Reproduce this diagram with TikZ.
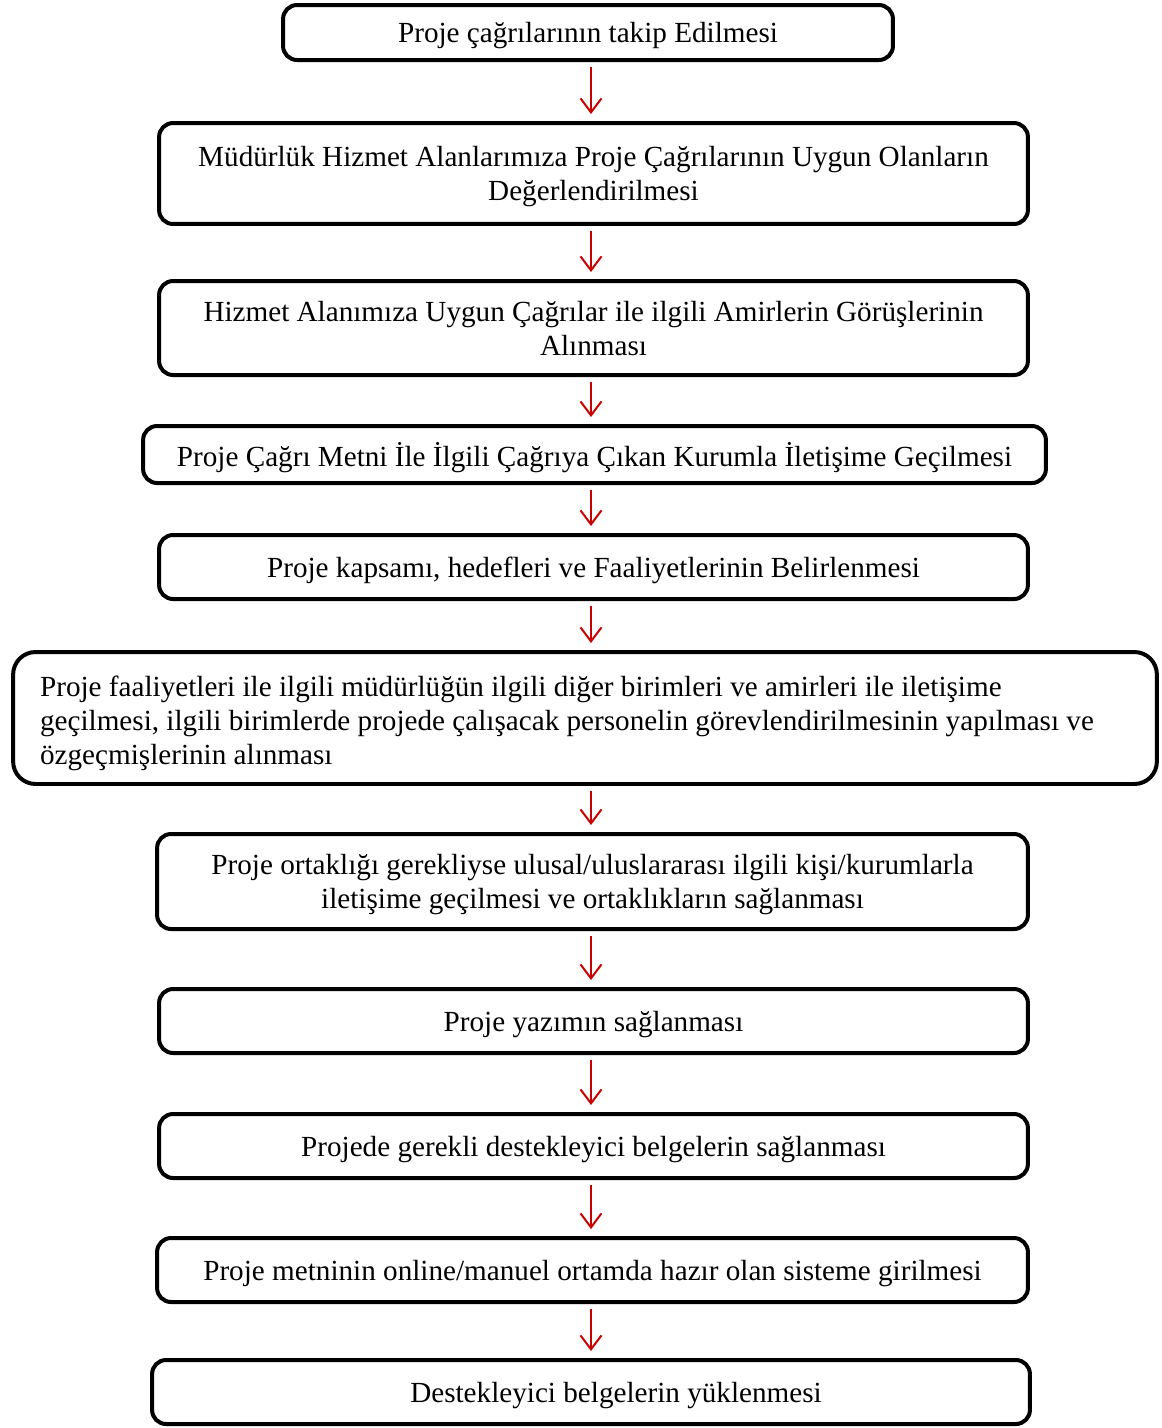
\documentclass[tikz,border=0pt]{standalone}
\usepackage{fontspec}
\setmainfont{Liberation Serif}
\definecolor{ArrowRed}{RGB}{200,0,0}
\definecolor{BoxInk}{RGB}{0,0,0}
\usetikzlibrary{arrows.meta}

\begin{document}
\begin{tikzpicture}[
    x=0.02cm, y=-0.02cm,
    FlowBox/.style={draw=BoxInk, line width=0.08cm, rounded corners=0.28cm,
      inner sep=0pt, align=center, text depth=0pt,
      font=\fontsize{16.6pt}{19.4pt}\selectfont},
    FlowArrow/.style={ArrowRed, line width=0.04cm,
      -{Straight Barb[length=0.28cm, width=0.42cm, line width=0.04cm]},
      shorten <=0.1cm, shorten >=0.14cm},
  ]

  \useasboundingbox (0,0) rectangle (1161,1428);

  % column of the red arrows
  \coordinate (axis) at (591,0);

  \node[FlowBox, minimum width=12.2cm, minimum height=1.1cm] (track) at (588,32.5)
    {Proje çağrılarının takip Edilmesi};

  \node[FlowBox, minimum width=17.38cm, minimum height=2.02cm] (assess) at (593.5,173.5)
    {Müdürlük Hizmet Alanlarımıza Proje Çağrılarının Uygun Olanların\\Değerlendirilmesi};

  \node[FlowBox, minimum width=17.38cm, minimum height=1.88cm] (opinion) at (593.5,328)
    {Hizmet Alanımıza Uygun Çağrılar ile ilgili Amirlerin Görüşlerinin\\Alınması};

  \node[FlowBox, minimum width=18.06cm, minimum height=1.14cm] (contact) at (594.5,454.5)
    {Proje Çağrı Metni İle İlgili Çağrıya Çıkan Kurumla İletişime Geçilmesi};

  \node[FlowBox, minimum width=17.38cm, minimum height=1.28cm] (scope) at (593.5,567)
    {Proje kapsamı, hedefleri ve Faaliyetlerinin Belirlenmesi};

  \node[FlowBox, rounded corners=0.45cm, align=flush left, text width=21.8cm,
    text depth=36.5pt, minimum width=22.88cm, minimum height=2.64cm] (units) at (585,718)
    {Proje faaliyetleri ile ilgili müdürlüğün ilgili diğer birimleri ve amirleri ile iletişime\\
     geçilmesi, ilgili birimlerde projede çalışacak personelin görevlendirilmesinin yapılması ve\\
     özgeçmişlerinin alınması};

  \node[FlowBox, minimum width=17.42cm, minimum height=1.9cm] (partner) at (592.5,881.5)
    {Proje ortaklığı gerekliyse ulusal/uluslararası ilgili kişi/kurumlarla\\iletişime geçilmesi ve ortaklıkların sağlanması};

  \node[FlowBox, minimum width=17.38cm, minimum height=1.28cm] (writing) at (593.5,1021)
    {Proje yazımın sağlanması};

  \node[FlowBox, minimum width=17.38cm, minimum height=1.28cm] (documents) at (593.5,1146)
    {Projede gerekli destekleyici belgelerin sağlanması};

  \node[FlowBox, minimum width=17.42cm, minimum height=1.28cm] (entry) at (592.5,1270)
    {Proje metninin online/manuel ortamda hazır olan sisteme girilmesi};

  \node[FlowBox, minimum width=17.56cm, minimum height=1.28cm] (upload) at (591,1392)
    {\hspace*{1cm}Destekleyici belgelerin yüklenmesi};

  \draw[FlowArrow] (track.south -| axis) -- (assess.north -| axis);
  \draw[FlowArrow] (assess.south -| axis) -- (opinion.north -| axis);
  \draw[FlowArrow] (opinion.south -| axis) -- (contact.north -| axis);
  \draw[FlowArrow] (contact.south -| axis) -- (scope.north -| axis);
  \draw[FlowArrow] (scope.south -| axis) -- (units.north -| axis);
  \draw[FlowArrow] (units.south -| axis) -- (partner.north -| axis);
  \draw[FlowArrow] (partner.south -| axis) -- (writing.north -| axis);
  \draw[FlowArrow] (writing.south -| axis) -- (documents.north -| axis);
  \draw[FlowArrow] (documents.south -| axis) -- (entry.north -| axis);
  \draw[FlowArrow] (entry.south -| axis) -- (upload.north -| axis);

\end{tikzpicture}
\end{document}
